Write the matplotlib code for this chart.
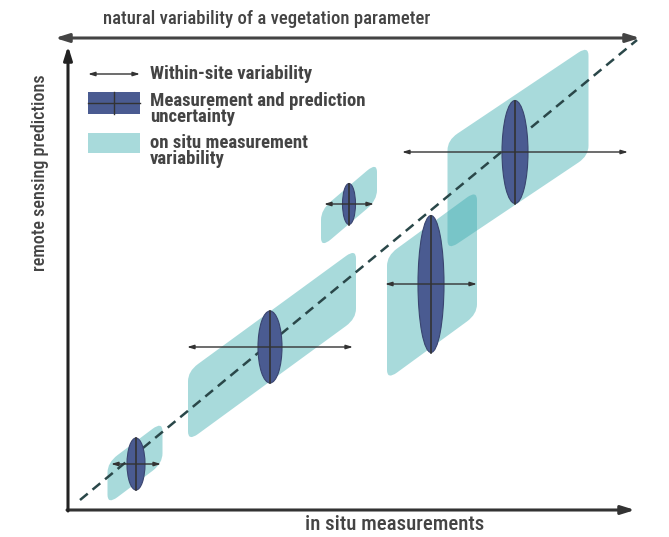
import numpy as np
import matplotlib
matplotlib.use("Agg")
import matplotlib.pyplot as plt
from matplotlib.patches import Ellipse, FancyBboxPatch, Rectangle
from matplotlib.transforms import Affine2D

# sites: uncertainty ellipse centre, within-site spread, uncertainty size
site_x = [68, 202, 281, 363, 447]
site_y = [46, 163, 306, 226, 358]
within_half = [25, 83, 25, 46, 113]
unc_w = [18, 24, 13, 26, 26]
unc_h = [52, 72, 41, 137, 103]

# in situ measurement variability bands (skewed rounded boxes)
band_x = [67, 204, 281, 364, 450]
band_y = [47, 165, 305, 225, 362]
band_w = [55, 168, 56, 90, 141]
band_h = [42, 70, 38, 124, 110]
band_slope = [0.75, 0.73, 0.85, 0.73, 0.67]

# 1:1 line end points
line_x = [12, 569]
line_y = [10, 470]

TEAL = "#3eadb1"
BLUE = "#4a5b91"
DARK = "#333333"
TXT = "#444444"
FONT = ["Roboto Condensed", "DejaVu Sans"]

fig = plt.figure(figsize=(6.69, 5.37), dpi=100)
ax = fig.add_axes([0, 0, 1, 1])
ax.set_xlim(-68, 601)
ax.set_ylim(-27, 510)
ax.axis("off")

for bx, by, bw, bh, s in zip(band_x, band_y, band_w, band_h, band_slope):
    box = FancyBboxPatch((bx - bw / 2, by - bh / 2), bw, bh,
                         boxstyle="round,pad=0,rounding_size=10",
                         fc=TEAL, ec="none", alpha=0.45)
    tr = Affine2D().translate(-bx, -by).skew(0, np.arctan(s)).translate(bx, by)
    box.set_transform(tr + ax.transData)
    ax.add_patch(box)

ax.plot(line_x, line_y, ls=(0, (4, 2.5)), color="#2a4749", lw=1.8, zorder=2)

for x, y, hw, w, h in zip(site_x, site_y, within_half, unc_w, unc_h):
    ax.add_patch(Ellipse((x, y), w, h, fc=BLUE, ec="#3a4570", lw=0.8, zorder=3))
    ax.plot([x, x], [y - h / 2, y + h / 2], color=DARK, lw=1.2, zorder=4)
    ax.annotate("", xy=(x + hw, y), xytext=(x - hw, y),
                arrowprops=dict(arrowstyle="<|-|>,head_length=0.4,head_width=0.12",
                                color=DARK, lw=1.0, shrinkA=0, shrinkB=0),
                zorder=5)

# axes arrows
ax.annotate("", xy=(567, 0), xytext=(-1, 0),
            arrowprops=dict(arrowstyle="-|>,head_length=0.8,head_width=0.25",
                            color=DARK, lw=2.2, shrinkA=0, shrinkB=0))
ax.annotate("", xy=(0, 464), xytext=(0, -1),
            arrowprops=dict(arrowstyle="-|>,head_length=0.8,head_width=0.25",
                            color="#222222", lw=2.2, shrinkA=0, shrinkB=0))
ax.annotate("", xy=(572, 472), xytext=(-13, 472),
            arrowprops=dict(arrowstyle="<|-|>,head_length=0.8,head_width=0.25",
                            color=TXT, lw=2.2, shrinkA=0, shrinkB=0))

ax.text(199, 491, "natural variability of a vegetation parameter", ha="center",
        va="center", fontsize=13.5, color=TXT, family=FONT, fontweight="medium")
ax.text(-28, 337, "remote sensing predictions", rotation=90, ha="center",
        va="center", fontsize=13, color=TXT, family=FONT, fontweight="medium")
ax.text(327, -14, "in situ measurements", ha="center", va="center",
        fontsize=15, color=TXT, family=FONT, fontweight="medium")

# legend
ax.annotate("", xy=(72, 436), xytext=(20, 436),
            arrowprops=dict(arrowstyle="<|-|>,head_length=0.4,head_width=0.12",
                            color=DARK, lw=1.0, shrinkA=0, shrinkB=0))
ax.add_patch(Rectangle((20, 396), 52, 22, fc=BLUE, ec="none"))
ax.plot([20, 72], [407, 407], color=DARK, lw=1.0)
ax.plot([46, 46], [396, 418], color=DARK, lw=1.0)
ax.add_patch(Rectangle((20, 357), 52, 20, fc=TEAL, ec="none", alpha=0.45))

leg_kw = dict(ha="left", va="center", fontsize=13.5, color=TXT, family=FONT,
              fontweight="bold", linespacing=0.85)
ax.text(82, 436, "Within-site variability", **leg_kw)
ax.text(82, 401, "Measurement and prediction\nuncertainty", **leg_kw)
ax.text(82, 359, "on situ measurement\nvariability", **leg_kw)

fig.savefig("out.png", dpi=100, facecolor="white")
